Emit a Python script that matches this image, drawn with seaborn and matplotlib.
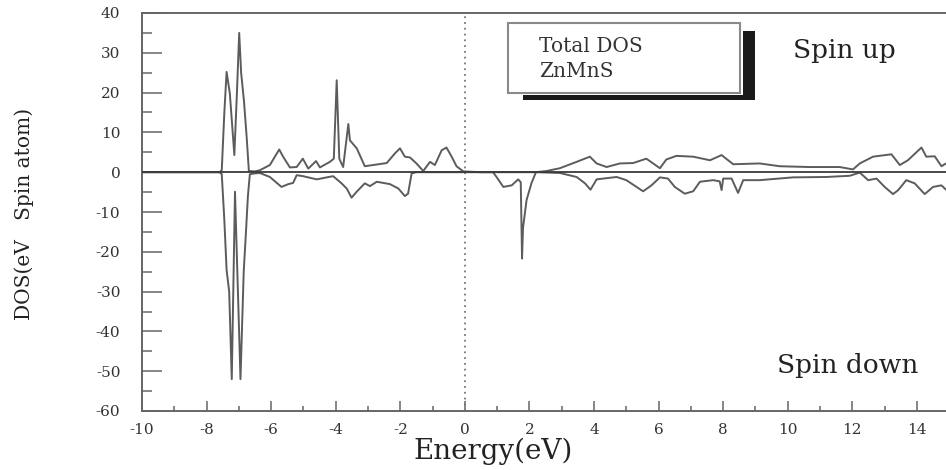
import numpy as np
import pandas as pd
import matplotlib
matplotlib.use("Agg")
import matplotlib.pyplot as plt
from matplotlib.patches import Rectangle
from matplotlib.ticker import MultipleLocator
import seaborn as sns

# ---------------- data ----------------
up_energy = [-10, -7.6, -7.53, -7.45, -7.38, -7.28, -7.14, -7.06, -6.99, -6.93,
             -6.84, -6.76, -6.69, -6.5, -6.35, -6.04, -5.75, -5.63, -5.42, -5.21,
             -5.02, -4.85, -4.61, -4.49, -4.18, -4.06, -3.97, -3.89, -3.77, -3.61,
             -3.56, -3.35, -3.10, -2.42, -2.17, -2.01, -1.86, -1.70, -1.50, -1.29,
             -1.08, -0.93, -0.72, -0.57, -0.41, -0.26, -0.05, 0.5, 2.2, 2.53,
             2.94, 3.46, 3.87, 4.08, 4.39, 4.80, 5.21, 5.62, 6.04, 6.24,
             6.55, 7.07, 7.59, 7.95, 8.31, 9.13, 9.75, 10.68, 11.61, 12.02,
             12.23, 12.64, 13.21, 13.47, 13.72, 14.14, 14.29, 14.55, 14.76, 14.9]
up_dos = [0, 0, 0.5, 15, 25.2, 19.8, 4.3, 20, 35, 25,
          17.7, 9, 0.3, 0.2, 0.5, 1.8, 5.7, 3.9, 1.2, 1.3,
          3.4, 0.9, 2.8, 1.2, 2.6, 3.4, 23.1, 3.4, 1.3, 12.1,
          8, 6, 1.5, 2.3, 4.7, 6, 3.9, 3.7, 2.2, 0.3,
          2.6, 1.8, 5.5, 6.2, 3.9, 1.5, 0.2, 0, 0, 0.3,
          1, 2.6, 3.9, 2.2, 1.3, 2.2, 2.3, 3.4, 1, 3.2,
          4.1, 3.9, 3, 4.3, 2, 2.2, 1.5, 1.3, 1.3, 0.7,
          2.2, 3.9, 4.5, 1.8, 3, 6.2, 3.9, 4, 1.5, 2.2]

down_energy = [-10, -7.6, -7.53, -7.45, -7.38, -7.3, -7.22, -7.12, -6.95, -6.85,
               -6.78, -6.72, -6.66, -6.5, -6.35, -6.04, -5.68, -5.47, -5.32, -5.21,
               -5.01, -4.59, -4.28, -4.08, -3.82, -3.66, -3.51, -3.35, -3.10, -2.94,
               -2.73, -2.32, -2.06, -1.86, -1.76, -1.65, -1.5, 0.87, 0.98, 1.19,
               1.45, 1.65, 1.73, 1.77, 1.80, 1.91, 2.06, 2.20, 2.94, 3.46,
               3.72, 3.89, 4.08, 4.70, 5.0, 5.52, 5.78, 6.04, 6.29, 6.50,
               6.81, 7.07, 7.28, 7.69, 7.89, 7.95, 8.0, 8.26, 8.46, 8.62,
               9.13, 10.16, 11.2, 11.92, 12.23, 12.49, 12.75, 13.0, 13.26, 13.42,
               13.67, 13.93, 14.24, 14.50, 14.76, 14.9]
down_dos = [0, 0, -0.5, -12, -24.6, -30, -52, -4.9, -52, -25,
            -15, -6, -0.5, -0.3, -0.2, -1.2, -3.7, -3.0, -2.7, -0.75,
            -1, -1.8, -1.3, -1, -2.8, -4.1, -6.4, -4.9, -2.8, -3.5,
            -2.4, -3, -4.1, -6, -5.4, -0.3, 0, 0, -1.2, -3.7,
            -3.3, -1.8, -2.5, -21.7, -14, -7, -2.8, 0, -0.2, -1.2,
            -2.8, -4.4, -1.8, -1.2, -2, -4.8, -3.3, -1.3, -1.6, -3.7,
            -5.4, -4.8, -2.4, -2, -2.3, -4.5, -1.6, -1.6, -5.2, -2,
            -2, -1.3, -1.2, -0.9, -0.1, -2, -1.6, -3.7, -5.5, -4.5,
            -2, -2.8, -5.5, -3.7, -3.3, -4.4]

x_ticks = [-10, -8, -6, -4, -2, 0, 2, 4, 6, 8, 10, 12, 14]
y_ticks = [-60, -50, -40, -30, -20, -10, 0, 10, 20, 30, 40]
legend_lines = ["Total DOS", "ZnMnS"]
spin_labels = ["Spin up", "Spin down"]

df = pd.concat([
    pd.DataFrame({"energy": up_energy, "dos": up_dos, "spin": "up"}),
    pd.DataFrame({"energy": down_energy, "dos": down_dos, "spin": "down"}),
], ignore_index=True)

# ---------------- style ----------------
sns.set_style("white")
plt.rcParams["font.family"] = ["DejaVu Serif"]
plt.rcParams["axes.unicode_minus"] = False

fig = plt.figure(figsize=(9.46, 4.70), dpi=100)
ax = fig.add_axes([142 / 946, 1 - 411 / 470, (946 - 142) / 946, (411 - 13) / 470])

line_col = "#5c5c5c"
sns.lineplot(data=df, x="energy", y="dos", hue="spin",
             palette={"up": line_col, "down": line_col},
             estimator=None, sort=False, legend=False, lw=1.4, ax=ax)

ax.axhline(0, color="#3a3a3a", lw=1.3, zorder=3)
ax.axvline(0, color="#777777", lw=1.3, ls=(0, (1, 2.2)), zorder=1)

ax.set_xlim(-10, 14.9)
ax.set_ylim(-60, 40)
ax.set_xticks(x_ticks)
ax.set_yticks(y_ticks)
ax.xaxis.set_minor_locator(MultipleLocator(1))
ax.yaxis.set_minor_locator(MultipleLocator(5))

ax.tick_params(which="both", bottom=True, left=True, top=False, right=False)
ax.tick_params(axis="x", which="major", direction="in", length=7.2, width=1.1,
               color="#666666", labelsize=11, labelcolor="#333333", pad=8.6)
ax.tick_params(axis="x", which="minor", direction="in", length=3.6, width=1.1,
               color="#666666")
ax.tick_params(axis="y", which="major", direction="in", length=14.4, width=1.1,
               color="#666666", labelsize=11, labelcolor="#333333", pad=15.5)
ax.tick_params(axis="y", which="minor", direction="in", length=7.2, width=1.1,
               color="#666666")

for side in ["left", "bottom", "top"]:
    ax.spines[side].set_color("#666666")
    ax.spines[side].set_linewidth(1.4)
ax.spines["right"].set_visible(False)

ax.set_xlabel("Energy(eV)", fontsize=20, color="#222222")
ax.xaxis.set_label_coords(0.437, -0.068)
ax.set_ylabel("DOS(eV   Spin atom)", fontsize=14.5, color="#222222")
ax.yaxis.set_label_coords(-0.134, 0.496)

# spin annotations
ax.text(11.75, 28.6, spin_labels[0], fontsize=19, ha="center", va="baseline",
        color="#222222")
ax.text(11.85, -50.5, spin_labels[1], fontsize=19, ha="center", va="baseline",
        color="#222222")

# legend-like box with drop shadow
ax.add_patch(Rectangle((8.61, 18.1), 0.37, 17.3, facecolor="#1a1a1a",
                       edgecolor="none", zorder=4))
ax.add_patch(Rectangle((1.80, 18.1), 7.18, 1.3, facecolor="#1a1a1a",
                       edgecolor="none", zorder=4))
ax.add_patch(Rectangle((1.33, 19.85), 7.19, 17.55, facecolor="white",
                       edgecolor="#8a8a8a", lw=1.5, zorder=5))
ax.text(2.3, 30.2, legend_lines[0], fontsize=14.5, ha="left", va="baseline",
        color="#333333", zorder=6)
ax.text(2.3, 23.9, legend_lines[1], fontsize=14.5, ha="left", va="baseline",
        color="#333333", zorder=6)

fig.savefig("out.png", dpi=100, facecolor="white")
